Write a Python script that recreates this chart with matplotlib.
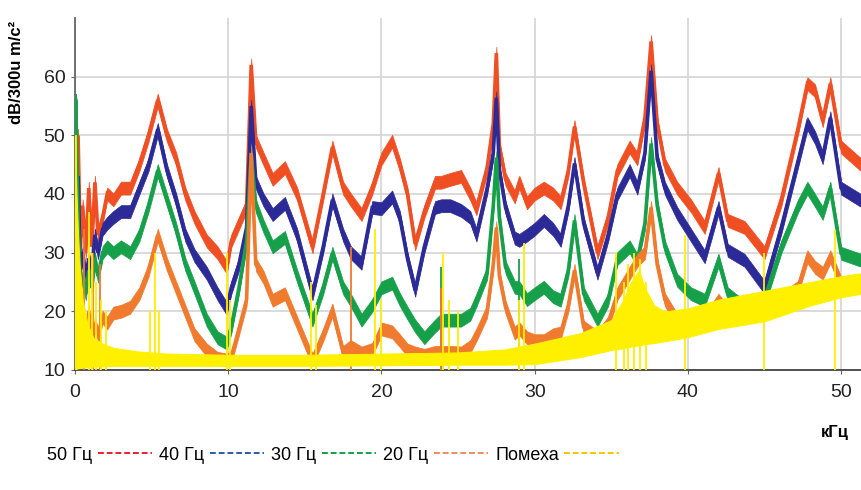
import numpy as np
import matplotlib
matplotlib.use('Agg')
import matplotlib.pyplot as plt
from matplotlib.lines import Line2D

plt.rcParams['font.family'] = ['Liberation Sans', 'DejaVu Sans']

# frequency grid, kHz (shared by the four vibration series)
freq = np.array([
    0.05, 0.2, 0.35, 0.5, 0.7, 0.9, 1.1, 1.3, 1.5, 1.8,
    2.1, 2.5, 3.0, 3.6, 4.2, 4.8, 5.4, 6.0, 6.6, 7.2,
    7.8, 8.6, 9.3, 9.9, 10.2, 10.7, 11.2, 11.5, 11.8, 12.3,
    12.9, 13.7, 14.5, 15.5, 16.2, 16.8, 17.5, 18.0, 18.7, 19.4,
    20.0, 20.7, 21.2, 21.7, 22.2, 22.8, 23.5, 23.9, 24.5, 25.2,
    25.8, 26.2, 26.9, 27.3, 27.5, 27.7, 28.1, 28.7, 29.0, 29.5,
    30.0, 30.6, 31.2, 31.7, 32.2, 32.6, 33.2, 34.1, 34.8, 35.4,
    36.2, 36.7, 37.2, 37.6, 38.0, 38.5, 39.3, 40.2, 41.1, 42.0,
    42.6, 43.7, 45.0, 46.1, 47.2, 47.8, 48.3, 48.8, 49.3, 50.0,
    51.3])

hz50 = np.array([
    36, 50, 31, 38, 30, 41, 31, 42, 33, 36,
    40, 39, 41, 41, 45, 50, 56, 50, 46, 40,
    36, 32, 30, 27.5, 32, 35, 38, 62, 49, 46,
    42.5, 44.5, 40, 31, 40, 48, 41, 39, 36.5, 41,
    46, 49, 45, 40, 31.5, 37, 42, 42, 42.5, 43,
    40, 37.5, 44.5, 52, 64, 48, 42.5, 39.5, 42, 38.5,
    40, 41, 40, 38.5, 44, 51.5, 41.8, 30, 36, 44,
    48, 46, 53, 66, 52, 45, 41, 38, 34.3, 43.5,
    35.5, 34.3, 30, 39, 51.3, 58.8, 57.6, 52.5, 58.8, 48,
    45])

hz40 = np.array([
    38, 43, 27, 30, 26, 29, 27, 33, 30, 34,
    35, 36, 37, 37, 41, 45, 51, 44, 39, 33,
    29.5, 26.5, 23, 20.5, 24, 28, 34.3, 55, 42, 39,
    36.5, 38.4, 33, 23, 31, 39, 33, 30, 28.2, 37.7,
    37.5, 39.5, 36, 29, 23.6, 31, 37.7, 38, 38, 37.2,
    36, 33, 41, 47, 56.4, 44, 37.7, 32.5, 32.1, 33,
    34, 35.5, 34, 32.1, 38, 45.2, 35, 26.5, 33, 40,
    44, 41, 47, 61, 46, 41, 36.7, 33, 29.3, 37.7,
    30.4, 28.7, 24.1, 34.3, 45.7, 52, 49.6, 46.2, 53, 41,
    38.9])

hz30 = np.array([
    56, 36, 24, 26, 23, 27, 24, 29, 26, 30,
    31, 30, 31, 30, 33, 38, 44, 39, 34, 28,
    24, 18.5, 15.5, 14.6, 17.3, 24, 32, 47, 38, 34.5,
    31, 32.6, 26, 18.5, 24, 29.9, 24, 21.9, 18.5, 21,
    24, 24.8, 22, 19.7, 17.5, 15.5, 17.5, 18.5, 18.5, 18.5,
    19.5, 21.9, 26.5, 38, 46.2, 36, 27.5, 24.1, 24, 22,
    23, 24.1, 22.5, 21.9, 27, 35.5, 23, 18.5, 22, 29,
    31, 28.7, 35, 48.6, 38, 31, 25.3, 23, 21.9, 28.7,
    23, 20.7, 21.9, 31, 38, 41, 38.9, 36.7, 41, 29.9,
    28.7])

hz20 = np.array([
    30, 28, 16, 22, 15, 20, 14, 18, 16, 19,
    18, 19.7, 20, 20.7, 23, 27, 33, 28, 24, 20,
    16, 13.4, 12, 11.7, 12.2, 17, 22, 47, 28, 25.8,
    21.9, 23, 18, 11.7, 16, 20.2, 13, 14, 12.9, 13.5,
    17, 16.5, 15, 13.4, 12.9, 12.5, 13, 13, 13, 12.9,
    14, 16, 20, 28, 34.3, 26, 20.7, 16.3, 17, 15.5,
    15, 15, 16, 16.3, 21, 27, 17.3, 15.6, 18, 23,
    26.5, 28.7, 30, 37.7, 28, 22, 18.5, 18.5, 18.5, 21.9,
    19.7, 20, 20.7, 22, 24.1, 29.3, 27.5, 26.5, 29.3, 24.8,
    25.3])

# narrow single-line peaks
hz30_spike_f = [23.9, 29.0, 0.1]
hz30_spike_v = [27.5, 29, 56]
hz20_spike_f = [0.6, 1.2, 1.6, 18.0, 23.9, 29.0]
hz20_spike_v = [34, 30, 28, 31, 24, 18]

# interference (Помеха) band and its spikes
noise_f = [0.0, 0.1, 0.2, 0.3, 0.5, 0.8, 1.2, 1.8, 2.5, 4, 6, 10, 15, 20, 25, 28,
           30, 33, 35, 35.8, 36.3, 36.8, 37.2, 37.8, 38.5, 40, 42, 45, 48, 50, 51.3]
noise_hi = [50, 40, 33, 28, 22, 18, 15.5, 14.5, 13.8, 13.2, 12.8, 12.6, 12.6, 12.8, 13.0, 13.5,
            14.5, 16.3, 18.5, 22, 25, 27, 24, 21, 20, 20.5, 22, 23.5, 25, 26, 26.5]
noise_lo = [10.2, 10.2, 10.3, 10.3, 10.4, 10.5, 10.6, 10.6, 10.7, 10.7, 10.7, 10.7, 10.7, 10.8, 10.9, 10.9,
            11.0, 12.2, 13.4, 13.7, 14.0, 14.2, 14.4, 14.6, 14.9, 15.6, 17.0, 18.3, 21.0, 22.4, 23.0]
noise_spike_f = [0.05, 0.9, 1.1, 1.4, 1.7, 2.0, 4.9, 5.2, 5.5, 9.9, 10.1, 15.4, 15.7,
                 19.6, 20.0, 24.0, 24.4, 25.0, 29.0, 29.3, 35.3, 35.8, 36.1, 36.5, 36.9,
                 37.3, 39.8, 45.0, 49.6]
noise_spike_v = [50, 37, 30, 25, 22, 20, 20, 30, 20, 30, 22, 25, 21,
                 34, 22, 30, 22, 20, 22, 31.6, 30, 25, 28, 30, 29,
                 25, 33, 30, 33.8]

series = [('50 Гц', hz50, '#f04e23'),
          ('40 Гц', hz40, '#2c2a96'),
          ('30 Гц', hz30, '#16a04a'),
          ('20 Гц', hz20, '#f07a2e')]
legend_colors = ['#e8202a', '#2a5aa8', '#12a04a', '#f08a60', '#f5c400']
yellow = '#fff000'
half = 1.1

fig = plt.figure(figsize=(8.61, 4.90), dpi=100)
ax = fig.add_axes([75 / 861, 1 - 370 / 490, 1 - 75 / 861, 352 / 490])

for name, vals, col in series:
    ax.fill_between(freq, vals - half, vals + half, color=col, lw=0.5, edgecolor=col, zorder=3)
    ax.plot(freq, vals, color=col, lw=2.6, solid_joinstyle='miter', zorder=3)
ax.vlines(hz30_spike_f, 10, hz30_spike_v, color='#16a04a', lw=1.3, zorder=3)
ax.vlines(hz20_spike_f, 10, hz20_spike_v, color='#f07a2e', lw=1.3, zorder=3)

ax.fill_between(noise_f, noise_lo, noise_hi, color=yellow, lw=0.7, edgecolor=yellow, zorder=4)
ax.vlines(noise_spike_f, 10, noise_spike_v, color=yellow, lw=1.3, zorder=4)

ax.set_xlim(0, 51.3)
ax.set_ylim(10, 70)
ax.set_xticks([0, 10, 20, 30, 40, 50])
ax.set_yticks([10, 20, 30, 40, 50, 60])
ax.grid(True, color='#d4d4d4', lw=1.2, zorder=0)
for s in ['top', 'right']:
    ax.spines[s].set_visible(False)
ax.spines['left'].set_color('#666666')
ax.spines['bottom'].set_color('#444444')
ax.spines['left'].set_linewidth(1.3)
ax.spines['bottom'].set_linewidth(1.3)
ax.tick_params(length=3, color='#666666', labelsize=14, labelcolor='#222222', pad=4)
ax.tick_params(axis='x', pad=7)

fig.text(835 / 861, 1 - 432 / 490, 'кГц', fontsize=12, fontweight='bold', ha='center', va='center')
fig.text(17 / 861, 1 - 72 / 490, 'dB/300u m/c²', fontsize=12, fontweight='bold',
         rotation=90, ha='center', va='center')

handles = [Line2D([], [], color=c, lw=1.4, ls=(0, (3, 1.5))) for c in legend_colors]
labels = [s[0] for s in series] + ['Помеха']
fig.legend(handles, labels, loc='center', bbox_to_anchor=(333 / 861, 1 - 455 / 490),
           ncol=5, frameon=False, markerfirst=False, fontsize=13, handlelength=3.0,
           handletextpad=0.3, columnspacing=0.4, borderpad=0)

fig.savefig('out.png', dpi=100)
